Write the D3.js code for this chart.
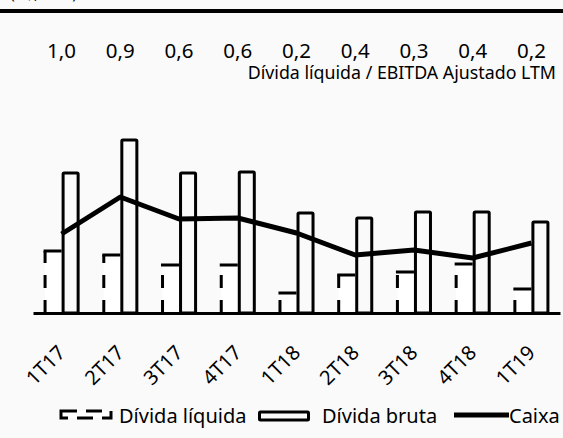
<!DOCTYPE html>
<html>
<head>
<meta charset="utf-8">
<script src="https://cdn.jsdelivr.net/npm/d3@7"></script>
<style>
  body { margin: 0; background: #fafafa; }
  svg { display: block; font-family: "Noto Sans", "Open Sans", sans-serif; }
</style>
</head>
<body>
<svg id="chart" width="563" height="438"></svg>
<script>
// quarters
const categories = ["1T17", "2T17", "3T17", "4T17", "1T18", "2T18", "3T18", "4T18", "1T19"];
// Dívida líquida / EBITDA Ajustado LTM
const leverage = ["1,0", "0,9", "0,6", "0,6", "0,2", "0,4", "0,3", "0,4", "0,2"];
// series
const grossDebt = [140, 173, 140, 141, 100, 95, 101, 101, 91];
const netDebt = [62, 58, 48, 48, 20, 38, 41, 49, 24];
const cash = [79, 116, 94, 95, 80, 58, 63, 55, 70];

const width = 563, height = 438;
const baseY = 313;

const svg = d3.select("#chart");

// header rule + cut off unit label
svg.append("text")
    .attr("x", 10).attr("y", -1)
    .style("font-size", "16px")
    .text("(R$, mm)");
svg.append("line")
    .attr("x1", 0).attr("x2", width)
    .attr("y1", 11).attr("y2", 11)
    .attr("stroke", "#000").attr("stroke-width", 4);

const x0 = d3.scaleBand()
    .domain(categories)
    .range([33, 560])
    .paddingInner(0.386)
    .paddingOuter(0.18);

const x1 = d3.scaleBand()
    .domain(["net", "gross"])
    .range([0, x0.bandwidth()]);

const y = d3.scaleLinear()
    .domain([0, 180])
    .range([baseY, baseY - 180]);

const rows = categories.map((c, i) => ({
    cat: c, gross: grossDebt[i], net: netDebt[i], cash: cash[i], lev: leverage[i]
}));

// ratio numbers on top
svg.append("g").selectAll("text")
    .data(rows)
    .enter().append("text")
    .attr("x", d => x0(d.cat) + x0.bandwidth() / 2)
    .attr("y", 58)
    .attr("text-anchor", "middle")
    .style("font-size", "20.5px")
    .text(d => d.lev);

svg.append("text")
    .attr("x", 556).attr("y", 79)
    .attr("text-anchor", "end")
    .style("font-size", "17.8px")
    .text("Dívida líquida / EBITDA Ajustado LTM");

// net debt bars (white, dashed outline)
const netG = svg.append("g");
netG.selectAll("rect")
    .data(rows)
    .enter().append("rect")
    .attr("x", d => x0(d.cat) + x1("net") + 1.5)
    .attr("y", d => y(d.net))
    .attr("width", x1.bandwidth())
    .attr("height", d => baseY - y(d.net))
    .attr("fill", "#fff");
netG.selectAll("path.left")
    .data(rows)
    .enter().append("path")
    .attr("class", "left")
    .attr("d", d => `M${x0(d.cat) + x1("net") + 1.5},${baseY}V${y(d.net)}`)
    .attr("fill", "none")
    .attr("stroke", "#000")
    .attr("stroke-width", 3)
    .attr("stroke-dasharray", "13,12");
netG.selectAll("path.top")
    .data(rows)
    .enter().append("path")
    .attr("class", "top")
    .attr("d", d => `M${x0(d.cat) + x1("net")},${y(d.net)}H${x0(d.cat) + x1("gross")}`)
    .attr("fill", "none")
    .attr("stroke", "#000")
    .attr("stroke-width", 3);

// gross debt bars
svg.append("g").selectAll("rect")
    .data(rows)
    .enter().append("rect")
    .attr("x", d => x0(d.cat) + x1("gross") + 1.5)
    .attr("y", d => y(d.gross))
    .attr("width", x1.bandwidth() - 3)
    .attr("height", d => baseY - y(d.gross))
    .attr("rx", 1)
    .attr("fill", "none")
    .attr("stroke", "#000")
    .attr("stroke-width", 3);

// cash line
const line = d3.line()
    .x(d => x0(d.cat) + x0.bandwidth() / 2)
    .y(d => y(d.cash));
svg.append("path")
    .datum(rows)
    .attr("d", line)
    .attr("fill", "none")
    .attr("stroke", "#000")
    .attr("stroke-width", 5)
    .attr("stroke-linejoin", "round");

// x axis
const xAxis = svg.append("g")
    .attr("transform", `translate(0,${baseY})`)
    .call(d3.axisBottom(x0).tickSize(0).tickSizeOuter(0).tickPadding(0));
xAxis.select(".domain").attr("stroke", "#000").attr("stroke-width", 3);
xAxis.selectAll("text")
    .attr("y", 0).attr("dy", 0)
    .attr("text-anchor", "end")
    .attr("transform", "translate(5,41) rotate(-45)")
    .style("font-size", "20px")
    .style("font-family", "'Noto Sans', sans-serif")
    .attr("fill", "#000");

// legend
const lg = svg.append("g").style("font-size", "20px");
lg.append("rect")
    .attr("x", 61).attr("y", 411).attr("width", 50).attr("height", 7)
    .attr("fill", "#fff").attr("stroke", "#000").attr("stroke-width", 3)
    .attr("stroke-dasharray", "16,9");
lg.append("text").attr("x", 119).attr("y", 423).text("Dívida líquida");
lg.append("rect")
    .attr("x", 259.5).attr("y", 412).attr("width", 49).attr("height", 8)
    .attr("rx", 1)
    .attr("fill", "none").attr("stroke", "#000").attr("stroke-width", 3);
lg.append("text").attr("x", 322).attr("y", 423).text("Dívida bruta");
lg.append("line")
    .attr("x1", 454).attr("x2", 509).attr("y1", 415).attr("y2", 415)
    .attr("stroke", "#000").attr("stroke-width", 5);
lg.append("text").attr("x", 509).attr("y", 423).text("Caixa");
</script>
</body>
</html>
